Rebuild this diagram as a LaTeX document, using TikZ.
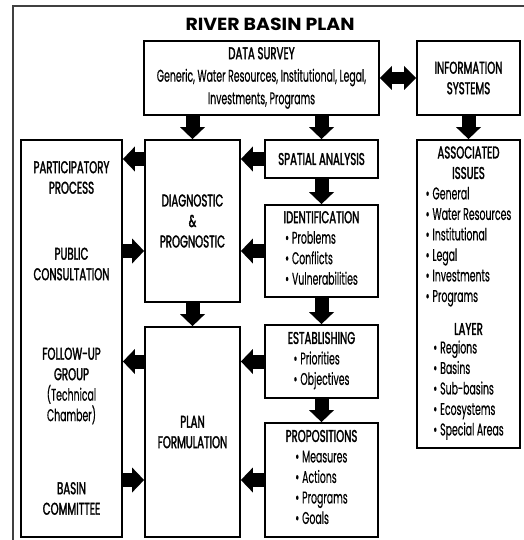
\documentclass[tikz,border=0pt]{standalone}
\usepackage{fontspec}
\setmainfont{Poppins}[FakeStretch=0.55,FakeBold=0.4]
\newfontfamily\hdfont{Poppins}[FakeStretch=0.60,FakeBold=1.8]
\newfontfamily\ttlfont{Poppins}[FakeStretch=1.08]
\usetikzlibrary{arrows.meta}
\newcommand{\hd}[1]{{\hdfont #1}}
\newcommand{\bul}{\textbullet\hspace{3pt}}

\tikzset{
  box/.style={draw, line width=1.8pt, align=center, inner sep=0pt,
    font=\fontsize{17}{20.5}\selectfont},
  txt/.style={align=center, inner sep=0pt, font=\fontsize{17}{20.5}\selectfont},
  blk/.style={line width=14pt, -{Triangle[width=25pt,length=12pt,line width=0pt]}},
  blkboth/.style={line width=12pt,
    {Triangle[width=24pt,length=12pt,line width=0pt]}-{Triangle[width=24pt,length=12pt,line width=0pt]}}
}

\begin{document}
\begin{tikzpicture}[x=1pt,y=-1pt]
\useasboundingbox (0,0) rectangle (523,540);
\draw[line width=1.2pt, black!75] (13,545) |- (528,6);

\node[font=\ttlfont\bfseries\fontsize{17.5}{20}\selectfont] (tt) at (270,24) {RIVER BASIN PLAN};

\node[box, minimum width=235pt, minimum height=74pt, font=\fontsize{17}{22.5}\selectfont] (ds) at (261.5,78)
  {\hd{DATA SURVEY}\\Generic, Water Resources, Institutional, Legal,\\Investments, Programs};
\node[box, minimum width=103pt, minimum height=74pt] (is) at (468.5,78) {\hd{INFORMATION}\\\hd{SYSTEMS}};

\node[box, minimum width=101pt, minimum height=397pt] (pp) at (71.5,338.5) {};
\node[txt] (pa) at (71.5,177.5) {\hd{PARTICIPATORY}\\\hd{PROCESS}};
\node[txt] (pc) at (71.5,264) {\hd{PUBLIC}\\\hd{CONSULTATION}};
\node[txt] (fg) at (71.5,386) {\hd{FOLLOW-UP}\\\hd{GROUP}\\(Technical\\Chamber)};
\node[txt] (bc) at (71.5,498.5) {\hd{BASIN}\\\hd{COMMITTEE}};

\node[box, minimum width=95pt, minimum height=162pt] (dg) at (192.5,221) {\hd{DIAGNOSTIC}\\\hd{\&}\\\hd{PROGNOSTIC}};
\node[box, minimum width=95pt, minimum height=210pt] (pf) at (192.5,432) {\hd{PLAN}\\\hd{FORMULATION}};

\node[box, minimum width=113pt, minimum height=38pt] (sp) at (321.5,159) {\hd{SPATIAL ANALYSIS}};
\node[box, minimum width=113pt, minimum height=92pt] (id) at (321.5,251)
  {\hd{IDENTIFICATION}\\\begin{tabular}[t]{@{}l@{}}\bul Problems\\\bul Conflicts\\\bul Vulnerabilities\end{tabular}};
\node[box, minimum width=113pt, minimum height=73pt] (es) at (321.5,361.5)
  {\hd{ESTABLISHING}\\\begin{tabular}[t]{@{}l@{}}\bul Priorities\\\bul Objectives\end{tabular}};
\node[box, minimum width=113pt, minimum height=114pt] (pr) at (321.5,480)
  {\hd{PROPOSITIONS}\\\begin{tabular}[t]{@{}l@{}}\bul Measures\\\bul Actions\\\bul Programs\\\bul Goals\end{tabular}};

\node[box, minimum width=103pt, minimum height=308pt] (ai) at (468.5,294)
  {\hd{ASSOCIATED}\\\hd{ISSUES}\\\begin{tabular}[t]{@{}l@{}}\bul General\\\bul Water Resources\\\bul Institutional\\\bul Legal\\\bul Investments\\\bul Programs\end{tabular}\\[14pt]
   \hd{LAYER}\\[-2pt]\begin{tabular}[t]{@{}l@{}}\bul Regions\\\bul Basins\\\bul Sub-basins\\\bul Ecosystems\\\bul Special Areas\end{tabular}};

\draw[blkboth] (ds) -- (is);
\draw[blk] (ds.south -| dg) -- (dg.north);
\draw[blk] (ds.south -| sp) -- (sp.north);
\draw[blk] (is) -- (ai);
\draw[blk] (sp) -- (id); \draw[blk] (id) -- (es); \draw[blk] (es) -- (pr);
\draw[blk] (dg) -- (pf);
\draw[blk] (sp.west) -- (sp.west -| dg.east);
\draw[blk] (dg.west |- sp) -- (pp.east |- sp);
\draw[blk] (id.west) -- (id.west -| dg.east);
\draw[blk] (pp.east |- id) -- (dg.west |- id);
\draw[blk] (es.west) -- (es.west -| pf.east);
\draw[blk] (pf.west |- es) -- (pp.east |- es);
\draw[blk] (pr.west) -- (pr.west -| pf.east);
\draw[blk] (pp.east |- pr) -- (pf.west |- pr);
\end{tikzpicture}
\end{document}
